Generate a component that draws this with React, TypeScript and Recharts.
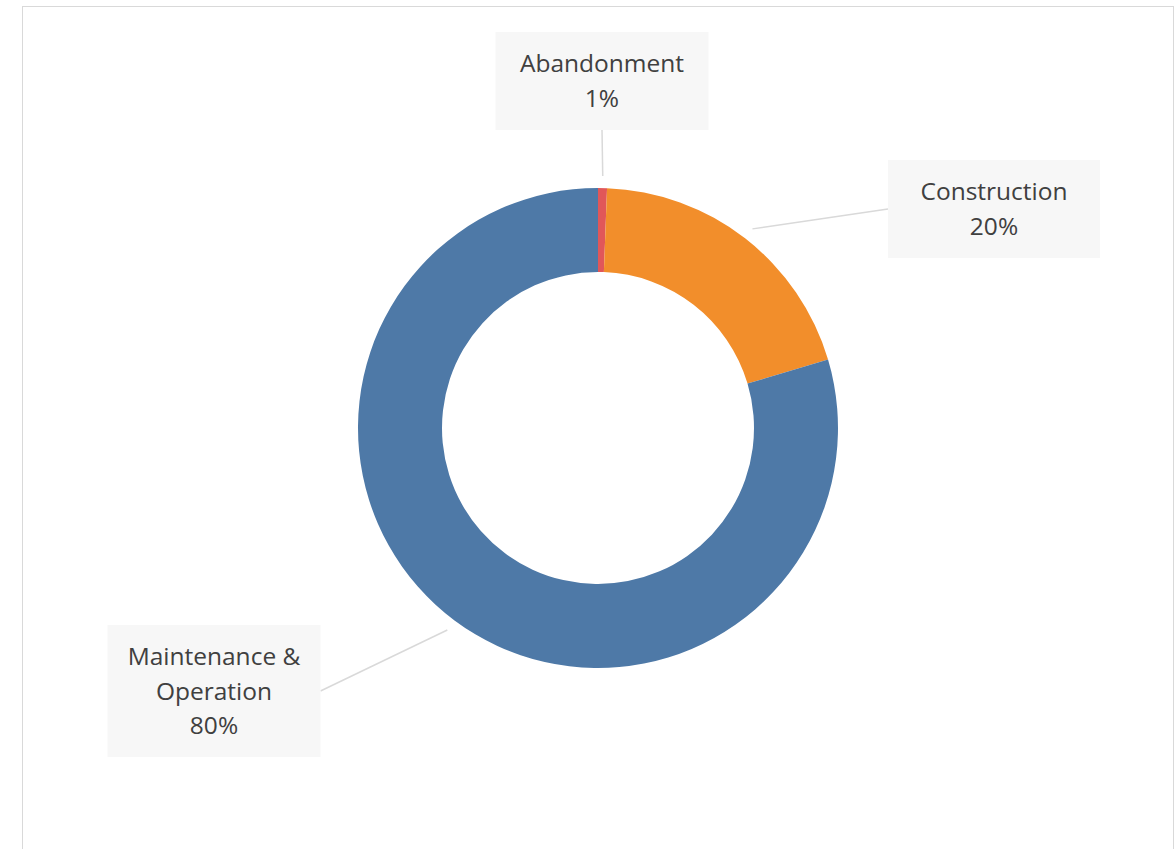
import { PieChart, Pie, Cell } from "recharts";

const categories = ["Abandonment", "Construction", "Maintenance & Operation"];
const shares = [0.6, 19.8, 79.6];
const colors = ["#E15759", "#F28E2B", "#4E79A7"];

// how each category name is wrapped inside its label box
const labelLines = [["Abandonment"], ["Construction"], ["Maintenance &", "Operation"]];

const data = categories.map((name, i) => ({ name, value: shares[i] }));

// label box placement, relative to the pie centre
const LABEL_BOXES = [
  { dx: 4, dy: -347, w: 213, h: 98 },
  { dx: 396, dy: -219, w: 212, h: 98 },
  { dx: -384, dy: 263, w: 213, h: 132 },
];

const RADIAN = Math.PI / 180;
const LINE_H = 34.5;

function renderLabel(props: any) {
  const { cx, cy, midAngle, outerRadius, percent, index } = props;
  const box = LABEL_BOXES[index];
  const bx = cx + box.dx;
  const by = cy + box.dy;
  const sx = cx + (outerRadius + 12) * Math.cos(-midAngle * RADIAN);
  const sy = cy + (outerRadius + 12) * Math.sin(-midAngle * RADIAN);

  // leader goes to the nearest edge midpoint of the box
  let ex: number, ey: number;
  if (Math.abs(box.dx) < box.w / 2) {
    ex = bx;
    ey = box.dy < 0 ? by + box.h / 2 : by - box.h / 2;
  } else {
    ex = box.dx > 0 ? bx - box.w / 2 : bx + box.w / 2;
    ey = by;
  }

  const lines = [...labelLines[index], `${Math.round(percent * 100)}%`];
  const firstY = by - ((lines.length - 1) * LINE_H) / 2 + 8.5;

  return (
    <g key={`lbl-${index}`}>
      <line x1={sx} y1={sy} x2={ex} y2={ey} stroke="#d9d9d9" strokeWidth={1.5} />
      <rect x={bx - box.w / 2} y={by - box.h / 2} width={box.w} height={box.h} fill="#f7f7f7" />
      <text
        textAnchor="middle"
        fill="#404040"
        fontSize={24.5}
        fontFamily="'Open Sans', 'Noto Sans', sans-serif"
      >
        {lines.map((l, i) => (
          <tspan key={i} x={bx} y={firstY + i * LINE_H}>
            {l}
          </tspan>
        ))}
      </text>
    </g>
  );
}

export default function App() {
  return (
    <div
      style={{
        position: "absolute",
        left: 0,
        top: 0,
        width: 1176,
        height: 849,
        overflow: "hidden",
        background: "#fff",
      }}
    >
      {/* chart area frame */}
      <div
        style={{
          position: "absolute",
          left: 22,
          top: 6,
          width: 1150,
          height: 900,
          border: "1.5px solid #d9d9d9",
        }}
      />
      <div style={{ position: "absolute", left: 0, top: 0 }}>
        <PieChart width={1176} height={849} margin={{ top: 0, right: 0, bottom: 0, left: 0 }}>
          <Pie
            data={data}
            dataKey="value"
            nameKey="name"
            cx={598}
            cy={428}
            innerRadius={156}
            outerRadius={240}
            startAngle={90}
            endAngle={-270}
            stroke="none"
            label={renderLabel}
            labelLine={false}
            isAnimationActive={false}
          >
            {data.map((entry, i) => (
              <Cell key={entry.name} fill={colors[i]} />
            ))}
          </Pie>
        </PieChart>
      </div>
    </div>
  );
}
